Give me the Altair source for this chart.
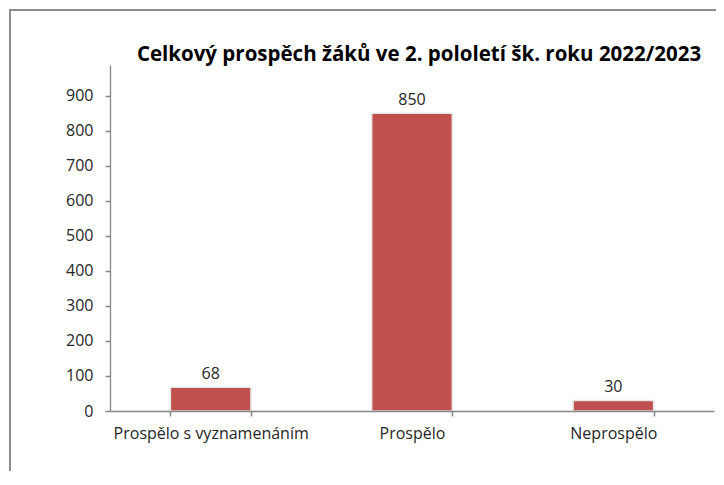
import altair as alt
import pandas as pd

categories = ["Prospělo s vyznamenáním", "Prospělo", "Neprospělo"]
values = [68, 850, 30]
y_ticks = [0, 100, 200, 300, 400, 500, 600, 700, 800, 900]
title_text = "Celkový prospěch žáků ve 2. pololetí šk. roku 2022/2023"

df = pd.DataFrame({"kategorie": categories, "pocet": values})
tdf = pd.DataFrame({"t": [title_text]})

FONT = "Open Sans"
TXT = "#262626"
AX = "#868686"

x_enc = alt.X(
    "kategorie:N",
    sort=categories,
    scale=alt.Scale(paddingInner=0.6, paddingOuter=0.3),
    axis=alt.Axis(
        title=None,
        labelAngle=0,
        labelFont=FONT,
        labelFontSize=16,
        labelColor=TXT,
        labelPadding=9,
        labelLimit=400,
        ticks=True,
        tickBand="extent",
        tickSize=5,
        tickWidth=1.5,
        tickColor=AX,
        domainColor=AX,
        domainWidth=1.3,
        zindex=1,
    ),
)
y_enc = alt.Y(
    "pocet:Q",
    scale=alt.Scale(domain=[0, 988], nice=False),
    axis=alt.Axis(
        title=None,
        values=y_ticks,
        grid=False,
        labelOverlap=False,
        labelFont=FONT,
        labelFontSize=16,
        labelColor=TXT,
        labelPadding=12,
        ticks=True,
        tickSize=5,
        tickWidth=1.5,
        tickColor=AX,
        domainColor=AX,
        domainWidth=1.3,
        zindex=1,
    ),
)

frame = alt.Chart(df).mark_rect(
    fill="transparent", stroke="#8c8c8c", strokeWidth=1.5
).encode(
    x=alt.value(-100), x2=alt.value(900), y=alt.value(-55), y2=alt.value(700)
)

title = alt.Chart(tdf).mark_text(
    font=FONT, fontSize=20.5, fontWeight="bold", color="black",
    baseline="alphabetic", align="center"
).encode(x=alt.value(309), y=alt.value(-4), text="t:N")

bars = alt.Chart(df).mark_bar(
    color="#C0504D", stroke="#e6e6e6", strokeWidth=1.5
).encode(x=x_enc, y=y_enc)

labels = alt.Chart(df).mark_text(
    baseline="bottom", dy=-5, font=FONT, fontSize=16, color=TXT
).encode(x=x_enc, y=y_enc, text="pocet:Q")

chart = alt.layer(bars, labels, frame, title).properties(
    width=604,
    height=346,
    autosize=alt.AutoSizeParams(type="none"),
    padding={"left": 102, "top": 57, "right": 2, "bottom": 60},
).configure_view(stroke=None)

chart.save("out.html", embed_options={"renderer": "svg", "actions": False})
